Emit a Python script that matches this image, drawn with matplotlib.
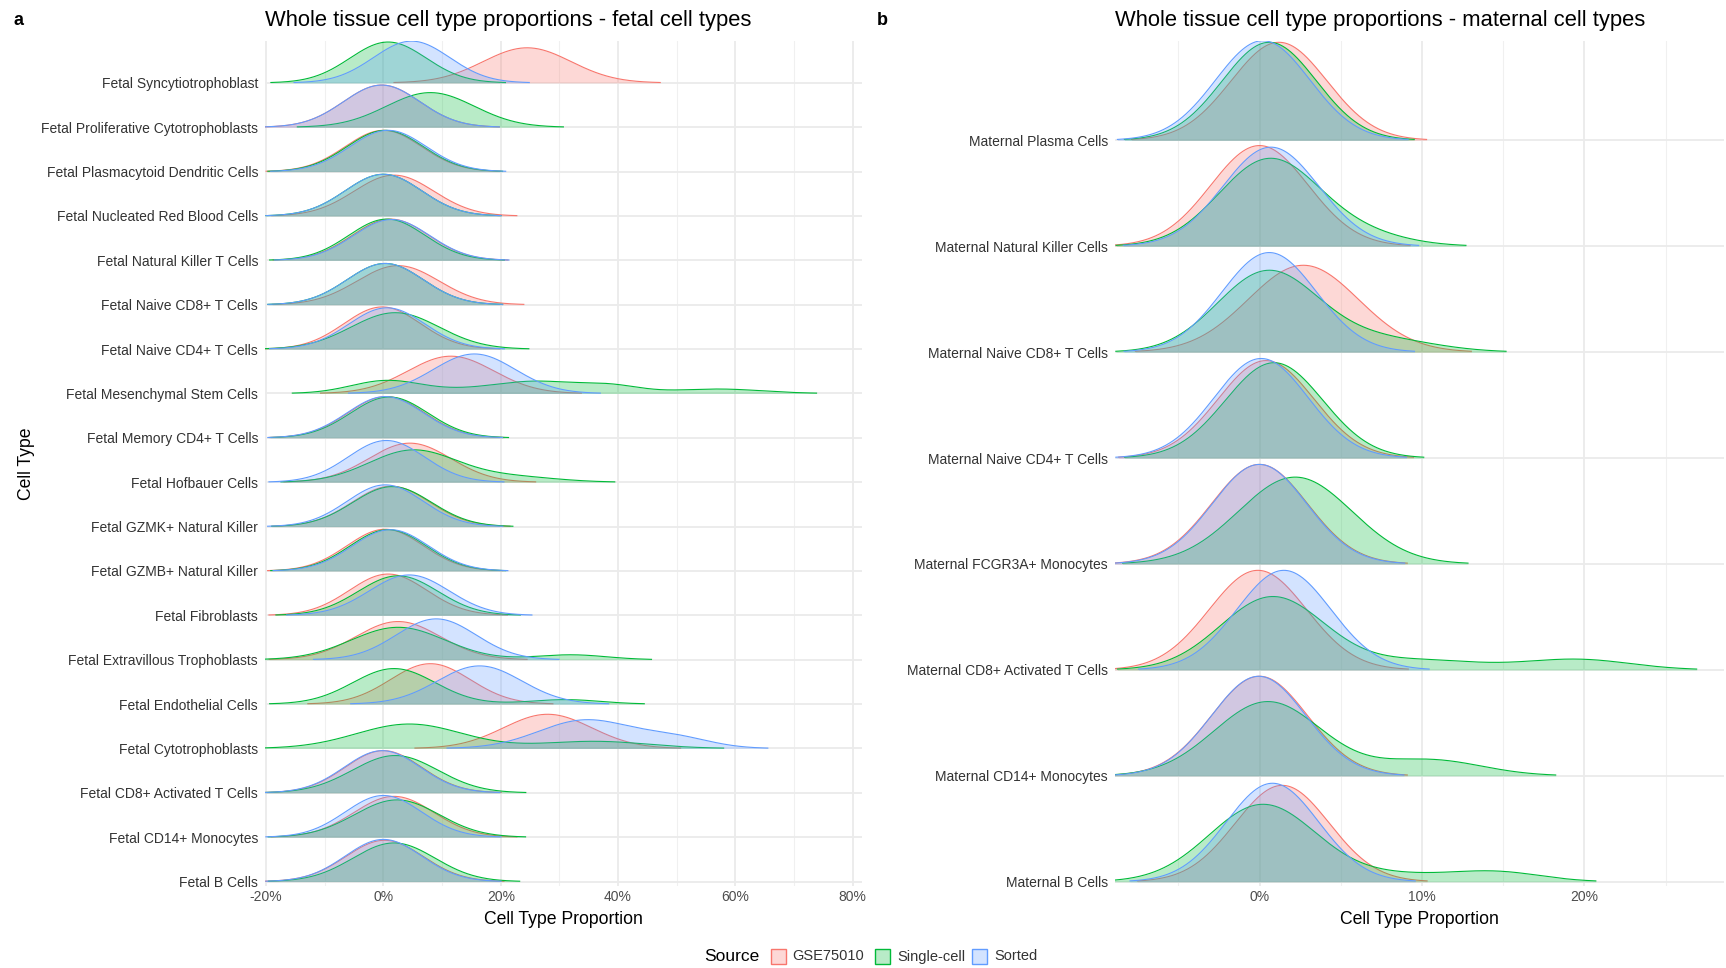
import numpy as np
import matplotlib.pyplot as plt
from matplotlib.patches import Rectangle

plt.rcParams['font.family'] = ['Liberation Sans', 'DejaVu Sans']

sources = ['GSE75010', 'Single-cell', 'Sorted']
source_colors = ['#F8766D', '#00BA38', '#619CFF']

# fetal panel, top ridge first
fetal_types = ['Fetal Syncytiotrophoblast', 'Fetal Proliferative Cytotrophoblasts',
               'Fetal Plasmacytoid Dendritic Cells', 'Fetal Nucleated Red Blood Cells',
               'Fetal Natural Killer T Cells', 'Fetal Naive CD8+ T Cells',
               'Fetal Naive CD4+ T Cells', 'Fetal Mesenchymal Stem Cells',
               'Fetal Memory CD4+ T Cells', 'Fetal Hofbauer Cells',
               'Fetal GZMK+ Natural Killer', 'Fetal GZMB+ Natural Killer',
               'Fetal Fibroblasts', 'Fetal Extravillous Trophoblasts',
               'Fetal Endothelial Cells', 'Fetal Cytotrophoblasts',
               'Fetal CD8+ Activated T Cells', 'Fetal CD14+ Monocytes', 'Fetal B Cells']

# density modes for each ridge: (centre %, spread %, peak height in ridge units)
fetal_gse = [
    [(24.5, 7.5, 0.79)],
    [(-0.3, 6.5, 0.95)],
    [(0.0, 6.5, 0.93)],
    [(1.8, 6.8, 0.92)],
    [(1.2, 6.5, 0.93)],
    [(2.5, 7.0, 0.88)],
    [(-0.2, 6.5, 0.95)],
    [(11.5, 7.3, 0.84)],
    [(0.5, 6.5, 0.93)],
    [(4.5, 7.0, 0.88)],
    [(1.3, 6.6, 0.91)],
    [(0.3, 6.5, 0.94)],
    [(0.8, 6.6, 0.93)],
    [(2.5, 7.2, 0.86)],
    [(8.0, 6.8, 0.91)],
    [(28.0, 7.5, 0.77)],
    [(0.0, 6.5, 0.95)],
    [(1.8, 6.8, 0.92)],
    [(0.2, 6.6, 0.93)],
]
fetal_sc = [
    [(0.8, 6.5, 0.92)],
    [(8.0, 7.5, 0.78)],
    [(0.3, 6.5, 0.93)],
    [(0.0, 6.5, 0.94)],
    [(0.6, 6.5, 0.93)],
    [(0.3, 6.5, 0.93)],
    [(2.0, 7.5, 0.82)],
    [(0.5, 6.0, 0.29), (13.0, 6.0, 0.045), (26.0, 7.5, 0.27), (39.0, 5.0, 0.15), (57.0, 7.5, 0.10)],
    [(1.0, 6.6, 0.92)],
    [(5.0, 7.5, 0.72), (22.0, 7.5, 0.12)],
    [(1.5, 6.7, 0.90)],
    [(0.8, 6.5, 0.93)],
    [(2.5, 6.8, 0.89)],
    [(2.5, 8.0, 0.73), (32.0, 6.0, 0.11)],
    [(1.8, 7.0, 0.80), (31.0, 6.0, 0.10)],
    [(4.4, 9.0, 0.55), (36.0, 9.0, 0.16)],
    [(2.0, 7.3, 0.84)],
    [(2.3, 7.2, 0.84)],
    [(1.8, 7.0, 0.87)],
]
fetal_sorted = [
    [(4.8, 6.5, 0.94)],
    [(-0.3, 6.5, 0.95)],
    [(0.8, 6.5, 0.93)],
    [(0.0, 6.5, 0.94)],
    [(1.4, 6.5, 0.92)],
    [(0.3, 6.5, 0.93)],
    [(0.6, 6.5, 0.93)],
    [(15.5, 7.0, 0.89)],
    [(0.3, 6.5, 0.93)],
    [(0.5, 6.5, 0.94)],
    [(0.3, 6.5, 0.94)],
    [(1.2, 6.5, 0.93)],
    [(4.4, 6.8, 0.91)],
    [(9.0, 6.8, 0.92)],
    [(16.4, 7.2, 0.86)],
    [(34.5, 8.0, 0.64), (50.0, 6.0, 0.22)],
    [(-0.2, 6.5, 0.95)],
    [(0.0, 6.5, 0.94)],
    [(0.0, 6.5, 0.95)],
]

# maternal panel, top ridge first
maternal_types = ['Maternal Plasma Cells', 'Maternal Natural Killer Cells',
                  'Maternal Naive CD8+ T Cells', 'Maternal Naive CD4+ T Cells',
                  'Maternal FCGR3A+ Monocytes', 'Maternal CD8+ Activated T Cells',
                  'Maternal CD14+ Monocytes', 'Maternal B Cells']

maternal_gse = [
    [(1.2, 2.95, 0.925)],
    [(0.0, 3.0, 0.95)],
    [(2.7, 3.4, 0.82)],
    [(0.4, 2.95, 0.92)],
    [(0.0, 2.95, 0.94)],
    [(-0.1, 3.0, 0.94)],
    [(0.0, 2.95, 0.94)],
    [(1.4, 2.9, 0.91)],
]
maternal_sc = [
    [(0.6, 2.9, 0.925)],
    [(0.6, 3.1, 0.82), (6.5, 2.8, 0.09)],
    [(0.5, 3.1, 0.76), (7.5, 3.3, 0.12)],
    [(0.9, 3.0, 0.90)],
    [(2.2, 3.5, 0.82)],
    [(0.8, 3.2, 0.69), (10.0, 3.5, 0.09), (19.5, 3.3, 0.10)],
    [(0.5, 3.3, 0.70), (10.5, 3.2, 0.15)],
    [(0.2, 3.3, 0.73), (8.5, 3.0, 0.06), (14.5, 2.8, 0.094)],
]
maternal_sorted = [
    [(0.2, 2.9, 0.94)],
    [(0.7, 2.95, 0.935)],
    [(0.6, 2.9, 0.94)],
    [(0.1, 2.9, 0.94)],
    [(0.0, 2.9, 0.94)],
    [(1.5, 2.9, 0.94)],
    [(-0.05, 2.9, 0.94)],
    [(0.8, 2.85, 0.93)],
]

W, H = 1726, 968
fig = plt.figure(figsize=(W / 100, H / 100), dpi=100)


def ridge(x, modes):
    y = np.zeros_like(x)
    for c, s, h in modes:
        y += h * np.exp(-0.5 * ((x - c) / s) ** 2)
    return y


def draw_panel(ax, types, series, xlim, ylim, major, minor, ticklabels):
    n = len(types)
    x = np.linspace(xlim[0] - 5, xlim[1] + 5, 3000)
    for i, name in enumerate(types):
        base = n - 1 - i
        z = 2 + i * 0.1
        for k, (modes, col) in enumerate(zip(series, source_colors)):
            y = ridge(x, modes[i])
            keep = np.where(y > 0.008)[0]
            xs = x[keep[0]:keep[-1] + 1]
            ys = y[keep[0]:keep[-1] + 1]
            ax.fill_between(xs, base, base + ys, color=col, alpha=0.28,
                            linewidth=0, zorder=z + k * 0.01)
            ax.plot(xs, base + ys, color=col, lw=0.8, zorder=z + k * 0.01 + 0.005)
    ax.set_xlim(*xlim)
    ax.set_ylim(*ylim)
    ax.set_yticks(np.arange(n)[::-1])
    ax.set_yticklabels(types)
    ax.set_xticks(major)
    ax.set_xticklabels(ticklabels)
    ax.set_xticks(minor, minor=True)
    ax.grid(True, which='major', color='#EBEBEB', lw=1.3, zorder=0)
    ax.grid(True, which='minor', axis='x', color='#F0F0F0', lw=0.8, zorder=0)
    ax.set_axisbelow(True)
    for sp in ax.spines.values():
        sp.set_visible(False)
    ax.tick_params(which='both', length=0, labelsize=10, colors='#4D4D4D')
    ax.tick_params(axis='y', pad=5, labelcolor='#333333')
    ax.tick_params(axis='x', pad=3)
    ax.set_xlabel('Cell Type Proportion', fontsize=12.7, labelpad=5)


# panel a
ax1 = fig.add_axes([265 / W, 1 - 886 / H, (862 - 265) / W, (886 - 40.7) / H])
draw_panel(ax1, fetal_types, [fetal_gse, fetal_sc, fetal_sorted],
           (-20.2, 81.6), (-0.1, 18.95),
           [-20, 0, 20, 40, 60, 80], [-10, 10, 30, 50, 70],
           ['-20%', '0%', '20%', '40%', '60%', '80%'])
ax1.set_ylabel('Cell Type', fontsize=12.7)
ax1.yaxis.set_label_coords((35 - 265) / (862 - 265), 0.5)

# panel b
ax2 = fig.add_axes([1115 / W, 1 - 886 / H, (1724 - 1115) / W, (886 - 40.7) / H])
draw_panel(ax2, maternal_types, [maternal_gse, maternal_sc, maternal_sorted],
           (-8.9, 28.6), (-0.04, 7.94),
           [0, 10, 20], [-5, 5, 15, 25],
           ['0%', '10%', '20%'])

# titles and panel tags
ty = 1 - 20.5 / H
fig.text(265 / W, ty, 'Whole tissue cell type proportions - fetal cell types',
         fontsize=15.8, va='center', ha='left')
fig.text(1115 / W, ty, 'Whole tissue cell type proportions - maternal cell types',
         fontsize=15.8, va='center', ha='left')
fig.text(14 / W, ty, 'a', fontsize=13, fontweight='bold', va='center')
fig.text(877 / W, ty, 'b', fontsize=13, fontweight='bold', va='center')

# legend along the bottom
ly = 1 - 956.5 / H
fig.text(704.5 / W, ly, 'Source', fontsize=12.5, va='center', ha='left')
box_x = [770.6, 875.0, 972.0]
for bx, label, col in zip(box_x, sources, source_colors):
    fig.patches.append(Rectangle((bx / W, ly - 7.5 / H), 15 / W, 15 / H,
                                 transform=fig.transFigure, facecolor=col,
                                 alpha=0.28, edgecolor='none'))
    fig.patches.append(Rectangle((bx / W, ly - 7.5 / H), 15 / W, 15 / H,
                                 transform=fig.transFigure, facecolor='none',
                                 edgecolor=col, lw=1.0))
    fig.text((bx + 22) / W, ly, label, fontsize=10.5, va='center', ha='left',
             color='#333333')

fig.savefig('out.png', dpi=100)
